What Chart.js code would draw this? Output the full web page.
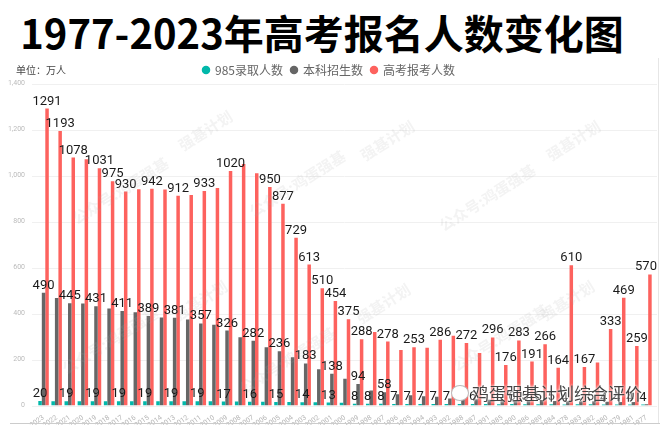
<!DOCTYPE html>
<html>
<head>
<meta charset="utf-8">
<script src="https://cdn.jsdelivr.net/npm/chart.js@4"></script>
<style>
  html, body { margin: 0; padding: 0; background: #fff; }
  body { width: 660px; height: 425px; position: relative; overflow: hidden; font-family: "Noto Sans CJK SC", sans-serif; }
  #titulo { position: absolute; left: 0; top: 5px; width: 644px; text-align: center; font-size: 40px; line-height: 54px; font-weight: 700; color: #000; white-space: nowrap; }
  #unidad { position: absolute; left: 16px; top: 62px; font-size: 10px; line-height: 16px; color: #444; }
  #marca { position: absolute; left: 472px; top: 381px; font-size: 17px; line-height: 24px; color: #444; white-space: nowrap; text-shadow: 0 0 3px #fff, 0 0 3px #fff; }
  #icono { position: absolute; left: 451px; top: 385px; width: 16px; height: 14px; border-radius: 50%; background: #fff; border: 1px solid #bbb; }
  #linea { position: absolute; left: 10px; right: 0; top: 423px; height: 1px; background: #ccc; }
  #borde { position: absolute; left: 658px; top: 58px; width: 1px; height: 365px; background: #e6e6e6; }
  #grafica { position: absolute; left: 0; top: 60px; }
  .agua { position: absolute; transform: translate(-50%, -50%) rotate(-32deg); font-size: 15px; font-weight: 700; color: rgba(170,170,170,0.14); white-space: nowrap; }
</style>
</head>
<body>
<div id="titulo">1977-2023年高考报名人数变化图</div>
<canvas id="grafica" width="660" height="365"></canvas>
<div id="unidad">单位:万人</div>
<div id="borde"></div>
<div id="linea"></div>
<div id="icono"></div>
<div id="marca">鸡蛋强基计划综合评价</div>
<script>
const años = ['2023','2022','2021','2020','2019','2018','2017','2016','2015','2014','2013','2012','2011','2010','2009','2008','2007','2006','2005','2004','2003','2002','2001','2000','1999','1998','1997','1996','1995','1994','1993','1992','1988','1987','1991','1985','1990','1986','1989','1984','1978','1983','1982','1980','1979','1981','1977'];
const luqu985 = [20,19,19,19,19,19,19,19,19,19,19,19,19,18,17,17,16,16,15,15,14,14,13,12,8,8,8,7,7,7,7,7,7,6,7,5,6,5,5,5,4,5,5,4,4,4,4];
const benke = [490,467,445,443,431,422,411,405,389,383,381,374,357,351,326,297,282,253,236,210,183,158,138,116,94,65,58,49,45,40,38,30,28,27,25,24,24,22,24,20,18,18,18,16,15,15,5];
const baokao = [1291,1193,1078,1071,1031,975,930,940,942,939,912,915,933,946,1020,1050,1010,950,877,729,613,510,454,375,288,320,278,241,253,251,286,303,272,228,296,176,283,191,266,164,610,167,187,333,469,259,570];
const nombres = ['985录取人数','本科招生数','高考报考人数'];
const colores = ['#01B8AA','#666666','#FD625E'];
const ticksY = [0,200,400,600,800,1000,1200,1400];

// que etiquetas se ven en cada serie
const etiq985 = ['2023','2021','2019','2017','2015','2013','2011','2009','2007','2005','2003','2001','1999','1998','1997','1996','1995','1994','1993','1992','1987','1990','1986','1989','1984','1978','1982','1980','1979','1981','1977'];
const etiqBenke = ['2023','2021','2019','2017','2015','2013','2011','2009','2007','2005','2003','2001','1999','1997'];
const etiqBaokao = ['2023','2022','2021','2019','2018','2017','2015','2013','2011','2009','2006','2005','2004','2003','2002','2001','2000','1999','1997','1995','1993','1988','1991','1985','1990','1986','1989','1984','1978','1983','1980','1979','1981','1977'];
const etiquetas = [etiq985, etiqBenke, etiqBaokao];

// marcas de agua del original
const aguaTextos = ['公众号:鸡蛋强基', '强基计划'];
const aguaX = [120, 205, 297, 387, 487, 573, 110, 200, 287, 383, 500, 567];
const aguaY = [190, 130, 183, 140, 197, 140, 340, 300, 360, 303, 337, 300];

document.getElementById('unidad').textContent = '单位\uFF1A万人';

aguaX.forEach((x, i) => {
    const d = document.createElement('div');
    d.className = 'agua';
    d.textContent = aguaTextos[i % 2];
    d.style.left = x + 'px';
    d.style.top = aguaY[i] + 'px';
    document.body.appendChild(d);
});

const rejilla = {
    id: 'rejilla',
    beforeDatasetsDraw(chart) {
        const { ctx, scales: { y } } = chart;
        ctx.save();
        ctx.strokeStyle = '#f0f0f0';
        ctx.lineWidth = 1;
        ticksY.forEach(t => {
            const py = Math.round(y.getPixelForValue(t)) + 0.5;
            ctx.beginPath();
            ctx.moveTo(32, py);
            ctx.lineTo(657, py);
            ctx.stroke();
        });
        ctx.restore();
    }
};

const valores = {
    id: 'valores',
    afterDatasetsDraw(chart) {
        const { ctx } = chart;
        ctx.save();
        ctx.fillStyle = '#1a1a1a';
        ctx.font = '13px Roboto';
        ctx.textAlign = 'center';
        ctx.textBaseline = 'alphabetic';
        chart.data.datasets.forEach((ds, i) => {
            chart.getDatasetMeta(i).data.forEach((bar, j) => {
                if (etiquetas[i].includes(años[j])) {
                    // la ultima etiqueta no cabe centrada
                    ctx.fillText(String(ds.data[j]), Math.min(bar.x, 646), bar.y - 4);
                }
            });
        });
        ctx.restore();
    }
};

new Chart(document.getElementById('grafica').getContext('2d'), {
    type: 'bar',
    data: {
        labels: años,
        datasets: [
            { label: nombres[0], data: luqu985, backgroundColor: colores[0] },
            { label: nombres[1], data: benke, backgroundColor: colores[1] },
            { label: nombres[2], data: baokao, backgroundColor: colores[2] }
        ]
    },
    plugins: [rejilla, valores],
    options: {
        responsive: false,
        animation: false,
        devicePixelRatio: 1,
        layout: { padding: { left: 5, right: 7, top: -4, bottom: 0 } },
        datasets: { bar: { barPercentage: 1, categoryPercentage: 0.8 } },
        plugins: {
            tooltip: { enabled: false },
            legend: {
                position: 'top',
                align: 'center',
                maxHeight: 27.5,
                labels: {
                    usePointStyle: true,
                    pointStyle: 'circle',
                    boxWidth: 6,
                    boxHeight: 6,
                    padding: 8,
                    color: '#666',
                    font: { size: 12, family: '"Noto Sans CJK SC"' }
                }
            }
        },
        scales: {
            x: {
                grid: { display: false },
                border: { display: false },
                ticks: { color: '#b5b5b5', font: { size: 7, family: 'Roboto' }, minRotation: 35, maxRotation: 35, autoSkip: false, padding: 0 },
                afterFit: s => { s.height = 19.5; }
            },
            y: {
                min: 0,
                max: 1400,
                grid: { display: false },
                border: { display: false },
                afterBuildTicks: s => { s.ticks = ticksY.map(v => ({ value: v })); },
                ticks: { color: '#bbb', font: { size: 7, family: 'Roboto' }, padding: 4 },
                afterFit: s => { s.width = 32; }
            }
        }
    }
});
</script>
</body>
</html>
